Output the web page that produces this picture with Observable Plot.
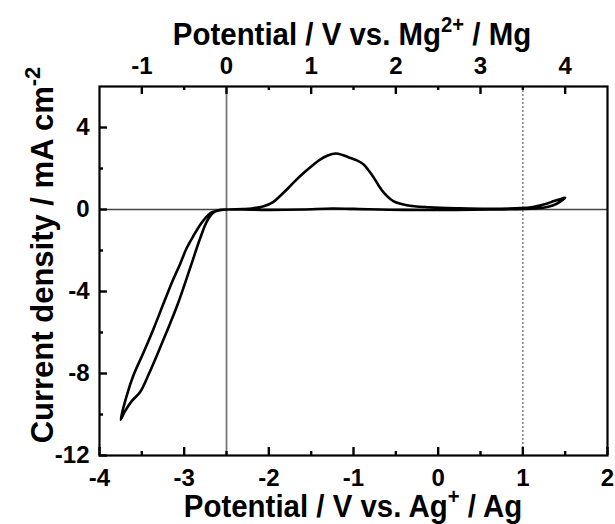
<!DOCTYPE html>
<html>
<head>
<meta charset="utf-8">
<script src="https://cdn.jsdelivr.net/npm/d3@7"></script>
<script src="https://cdn.jsdelivr.net/npm/@observablehq/plot@0.6"></script>
<style>
  html, body { margin: 0; background: #fff; overflow: hidden; }
  #chart svg text { font-family: "Liberation Sans", Arial, sans-serif; }
</style>
</head>
<body>
<div id="chart"></div>
<script>
// Cyclic voltammogram: potential (V vs. Ag+/Ag) and current density (mA cm^-2), in scan order
const potential = [
  -2.30, -2.45, -2.56, -2.63, -2.69, -2.75, -2.81, -2.89, -2.97, -3.05,
  -3.14, -3.25, -3.36, -3.48, -3.60, -3.68, -3.75,
  -3.70, -3.62, -3.52, -3.42, -3.32, -3.20, -3.08, -2.93, -2.81, -2.73, -2.66, -2.60, -2.50,
  -2.30, -2.20, -2.06, -1.95, -1.87, -1.77, -1.67, -1.57, -1.47, -1.39, -1.31, -1.21,
  -1.13, -1.06, -0.96, -0.88, -0.82, -0.76, -0.70, -0.64, -0.53, -0.37, -0.10, 0.26,
  0.60, 0.98, 1.10, 1.20, 1.30, 1.36, 1.43, 1.50,
  1.47, 1.40, 1.30, 1.15, 0.60, 0.20, -0.40, -1.00, -1.25, -1.60, -2.00, -2.30
];
const current = [
  0.00, 0.00, -0.02, -0.08, -0.17, -0.42, -0.74, -1.28, -1.88, -2.68,
  -3.51, -4.65, -5.80, -6.98, -8.10, -9.10, -10.25,
  -9.85, -9.35, -8.90, -8.05, -7.10, -5.90, -4.66, -2.86, -1.39, -0.57, -0.17, -0.04, 0.00,
  0.02, 0.05, 0.16, 0.36, 0.65, 1.05, 1.47, 1.85, 2.20, 2.45, 2.62, 2.73,
  2.66, 2.55, 2.40, 2.20, 1.90, 1.55, 1.15, 0.81, 0.41, 0.21, 0.11, 0.06,
  0.04, 0.07, 0.11, 0.20, 0.31, 0.40, 0.49, 0.58,
  0.47, 0.28, 0.13, 0.05, 0.00, -0.02, -0.02, 0.03, 0.05, 0.00, -0.02, 0.00
];

// Axes
const xDomain = [-4, 2];
const yDomain = [-12, 6];
const xTicks = [-4, -3, -2, -1, 0, 1, 2];
const xMinorTicks = [-3.5, -2.5, -1.5, -0.5, 0.5, 1.5];
const yTicks = [-12, -8, -4, 0, 4];
const yMinorTicks = [-10, -6, -2, 2];
const mgTicks = [-1, 0, 1, 2, 3, 4];
const mgMinorTicks = [-0.5, 0.5, 1.5, 2.5, 3.5];
const mgOffset = 2.5;          // V vs. Mg2+/Mg = V vs. Ag+/Ag + 2.5
const solidRefX = [-2.5];      // 0 V vs. Mg
const dottedRefX = [1];        // 3.5 V vs. Mg
const zeroRefY = [0];

const bottomTitle = ["Potential / V vs. Ag", "+", " / Ag"];
const topTitle = ["Potential / V vs. Mg", "2+", " / Mg"];
const leftTitle = ["Current density / mA cm", "-2", ""];

const cv = potential.map((x, i) => ({x, y: current[i]}));
const toMgAg = (m) => m - mgOffset;
const fmt = (d) => String(Math.round(d * 10) / 10);

const W = 615, H = 524;
const M = {left: 99, right: 8, top: 86, bottom: 69};
const innerW = W - M.left - M.right;
const innerH = H - M.top - M.bottom;
const MAJOR = 8, MINOR = 4;
const TICK = {stroke: "#000", strokeWidth: 2.4};

const plot = Plot.plot({
  width: W, height: H,
  marginLeft: M.left, marginRight: M.right, marginTop: M.top, marginBottom: M.bottom,
  x: {domain: xDomain},
  y: {domain: yDomain},
  style: {fontSize: "24px", fontWeight: "bold", color: "#000", background: "#fff", overflow: "visible"},
  marks: [
    Plot.ruleY(zeroRefY, {stroke: "#444", strokeWidth: 1.5}),
    Plot.ruleX(solidRefX, {stroke: "#777", strokeWidth: 1.8}),
    Plot.ruleX(dottedRefX, {stroke: "#888", strokeWidth: 1.6, strokeDasharray: "2,2"}),
    Plot.line(cv, {x: "x", y: "y", stroke: "#000", strokeWidth: 2.6, curve: "catmull-rom"}),
    // inward tick marks
    Plot.tickX(xTicks, {x: (d) => d, insetTop: innerH - MAJOR, ...TICK}),
    Plot.tickX(xMinorTicks, {x: (d) => d, insetTop: innerH - MINOR, ...TICK}),
    Plot.tickX(mgTicks.map(toMgAg), {x: (d) => d, insetBottom: innerH - MAJOR, ...TICK}),
    Plot.tickX(mgMinorTicks.map(toMgAg), {x: (d) => d, insetBottom: innerH - MINOR, ...TICK}),
    Plot.tickY(yTicks, {y: (d) => d, insetRight: innerW - MAJOR, ...TICK}),
    Plot.tickY(yMinorTicks, {y: (d) => d, insetRight: innerW - MINOR, ...TICK}),
    // tick labels
    Plot.axisX({anchor: "bottom", ticks: xTicks, tickSize: 0, tickPadding: 13, tickFormat: fmt, label: null, fontSize: 24}),
    Plot.axisX({anchor: "top", ticks: mgTicks.map(toMgAg), tickSize: 0, tickPadding: 13, tickFormat: (d) => fmt(d + mgOffset), label: null, fontSize: 24}),
    Plot.axisY({anchor: "left", ticks: yTicks, tickSize: 0, tickPadding: 10, tickFormat: fmt, label: null, fontSize: 24}),
    Plot.frame({stroke: "#000", strokeWidth: 2.2})
  ]
});

// Axis titles with superscripts
const svg = d3.select(plot);
function addTitle(parts, tx, ty, rotate, size, sx) {
  const g = svg.append("g")
    .attr("transform", `translate(${tx},${ty})${rotate ? ` rotate(${rotate})` : ""} scale(${sx},1)`);
  const t = g.append("text").attr("text-anchor", "middle").attr("font-size", size)
    .attr("font-weight", "bold").attr("fill", "#000");
  const shift = Math.round(size * 0.42);
  t.append("tspan").text(parts[0]);
  t.append("tspan").attr("font-size", Math.round(size * 0.7)).attr("dy", -shift).text(parts[1]);
  if (parts[2]) t.append("tspan").attr("dy", shift).text(parts[2]);
}
addTitle(bottomTitle, 353, 517, 0, 32, 0.92);
addTitle(topTitle, 352, 45, 0, 32, 0.92);
addTitle(leftTitle, 53, 255, -90, 31, 1);

document.getElementById("chart").appendChild(plot);
</script>
</body>
</html>
